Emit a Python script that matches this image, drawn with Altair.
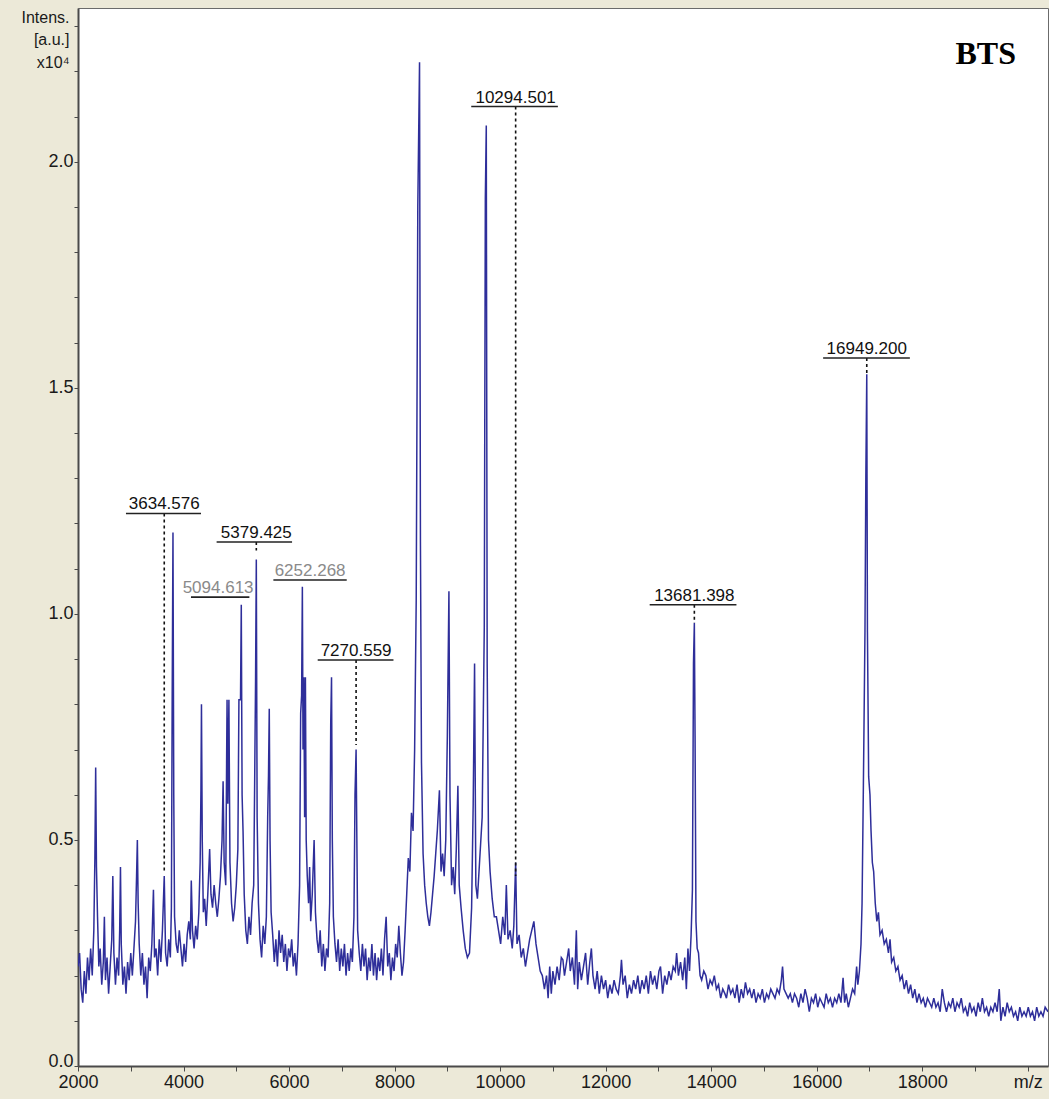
import altair as alt
import pandas as pd

# ---------------- spectrum (m/z, intensity x10^4) ----------------
SEG_A = [
    (2000, 0.22), (2030, 0.25), (2060, 0.17), (2090, 0.14), (2120, 0.21), (2150, 0.16),
    (2180, 0.24), (2210, 0.19), (2240, 0.26), (2270, 0.20), (2300, 0.30), (2320, 0.46),
    (2335, 0.66), (2350, 0.44), (2370, 0.33), (2395, 0.22), (2420, 0.26), (2450, 0.18),
    (2480, 0.23), (2500, 0.33), (2520, 0.19), (2550, 0.24), (2580, 0.16), (2610, 0.22),
    (2640, 0.28), (2660, 0.42), (2680, 0.25), (2710, 0.18), (2740, 0.24), (2770, 0.20),
    (2790, 0.30), (2805, 0.44), (2820, 0.27), (2850, 0.18), (2880, 0.22), (2910, 0.16),
    (2940, 0.23), (2970, 0.19), (3000, 0.25), (3030, 0.20), (3060, 0.26), (3090, 0.32),
    (3110, 0.42), (3125, 0.50), (3140, 0.36), (3160, 0.27), (3190, 0.20), (3220, 0.25),
    (3250, 0.18), (3280, 0.22), (3310, 0.15), (3340, 0.24), (3370, 0.21), (3400, 0.27),
    (3430, 0.39), (3450, 0.24), (3480, 0.26), (3510, 0.20), (3540, 0.28), (3570, 0.23),
    (3600, 0.30), (3634.576, 0.42), (3660, 0.25), (3690, 0.22), (3720, 0.28), (3750, 0.24),
    (3770, 0.35), (3785, 0.81), (3800, 1.18), (3815, 0.60), (3830, 0.33), (3860, 0.27),
    (3890, 0.25), (3920, 0.30), (3950, 0.26), (3980, 0.22), (4010, 0.27), (4040, 0.23),
    (4070, 0.29), (4100, 0.32), (4130, 0.28), (4147, 0.41), (4170, 0.30), (4200, 0.26),
    (4230, 0.31), (4260, 0.28), (4290, 0.34), (4315, 0.45), (4330, 0.61), (4340, 0.80),
    (4355, 0.50), (4375, 0.34), (4400, 0.37), (4430, 0.31), (4460, 0.38), (4495, 0.48),
    (4520, 0.38), (4550, 0.35), (4580, 0.40), (4610, 0.36), (4640, 0.33), (4670, 0.37),
    (4700, 0.42), (4730, 0.50), (4750, 0.63), (4770, 0.45), (4800, 0.40), (4825, 0.81),
    (4840, 0.58), (4860, 0.81), (4880, 0.45), (4910, 0.36), (4940, 0.32), (4970, 0.35),
]
SEG_B = [
    (5000, 0.40), (5030, 0.48), (5050, 0.81), (5080, 0.81), (5094.613, 1.02), (5110, 0.60),
    (5128, 0.52), (5150, 0.38), (5180, 0.30), (5210, 0.27), (5240, 0.33), (5270, 0.29),
    (5300, 0.36), (5330, 0.40), (5350, 0.65), (5365, 0.85), (5379.425, 1.12), (5395, 0.55),
    (5420, 0.36), (5450, 0.28), (5480, 0.24), (5510, 0.31), (5540, 0.27), (5570, 0.33),
    (5595, 0.55), (5610, 0.64), (5625, 0.79), (5640, 0.50), (5660, 0.34), (5690, 0.29),
    (5720, 0.23), (5750, 0.28), (5780, 0.22), (5810, 0.30), (5840, 0.25), (5870, 0.29),
    (5900, 0.23), (5930, 0.27), (5960, 0.21), (5990, 0.26), (6020, 0.24), (6050, 0.28),
    (6080, 0.22), (6110, 0.25), (6140, 0.20), (6170, 0.27), (6200, 0.40), (6220, 0.78),
    (6238, 0.82), (6252.268, 1.06), (6265, 0.70), (6280, 0.86), (6295, 0.55), (6310, 0.86),
    (6325, 0.50), (6345, 0.42), (6370, 0.36), (6390, 0.44), (6410, 0.32), (6440, 0.38),
    (6475, 0.50), (6500, 0.34), (6530, 0.28), (6560, 0.25), (6590, 0.30), (6620, 0.22),
    (6650, 0.27), (6680, 0.21), (6710, 0.26), (6740, 0.24), (6770, 0.36), (6790, 0.76),
    (6805, 0.86), (6820, 0.50), (6840, 0.33), (6870, 0.27), (6900, 0.23), (6930, 0.28),
    (6960, 0.21), (6990, 0.26), (7020, 0.22), (7050, 0.27), (7080, 0.20), (7110, 0.25),
    (7140, 0.21), (7170, 0.26), (7200, 0.23), (7230, 0.33), (7250, 0.60), (7270.559, 0.70),
    (7285, 0.50), (7300, 0.30), (7330, 0.25), (7360, 0.21), (7390, 0.27), (7420, 0.22),
    (7450, 0.26), (7480, 0.19), (7510, 0.24), (7540, 0.21), (7570, 0.27), (7600, 0.20),
    (7630, 0.25), (7660, 0.19), (7690, 0.24), (7720, 0.21), (7750, 0.26), (7780, 0.20),
    (7810, 0.28), (7840, 0.33), (7870, 0.22), (7900, 0.25), (7930, 0.19), (7960, 0.24),
    (7990, 0.21),
]
SEG_C = [
    (8020, 0.27), (8050, 0.24), (8080, 0.31), (8110, 0.25), (8140, 0.20), (8170, 0.23),
    (8200, 0.30), (8230, 0.38), (8260, 0.46), (8290, 0.43), (8320, 0.56), (8350, 0.52),
    (8380, 0.70), (8410, 1.03), (8440, 1.90), (8473, 2.22), (8490, 1.16), (8510, 0.67),
    (8540, 0.47), (8570, 0.40), (8600, 0.36), (8630, 0.33), (8660, 0.31), (8690, 0.34),
    (8720, 0.38), (8750, 0.42), (8780, 0.47), (8810, 0.52), (8850, 0.61), (8880, 0.43),
    (8910, 0.47), (8940, 0.42), (8970, 0.50), (9000, 0.73), (9030, 1.05), (9050, 0.60),
    (9080, 0.40), (9110, 0.44), (9140, 0.38), (9170, 0.48), (9200, 0.62), (9225, 0.40),
    (9260, 0.35), (9300, 0.30), (9340, 0.26), (9380, 0.24), (9420, 0.25), (9460, 0.35),
    (9490, 0.58), (9516, 0.89), (9540, 0.40), (9570, 0.37), (9610, 0.45), (9660, 0.55),
    (9700, 0.97), (9720, 1.92), (9738, 2.08), (9755, 0.89), (9780, 0.50), (9810, 0.43),
    (9850, 0.37), (9890, 0.33), (9930, 0.33), (9970, 0.30), (10010, 0.27), (10050, 0.33),
    (10090, 0.29), (10118, 0.40), (10150, 0.28), (10190, 0.30), (10230, 0.26), (10260, 0.31),
    (10294.501, 0.45), (10320, 0.27), (10360, 0.29), (10400, 0.24), (10440, 0.26),
    (10480, 0.22), (10520, 0.25), (10560, 0.28), (10600, 0.30), (10640, 0.32), (10680, 0.27),
    (10720, 0.24), (10760, 0.21), (10800, 0.20), (10840, 0.17), (10880, 0.20), (10910, 0.15),
    (10940, 0.22), (10970, 0.16),
]
SEG_D = [
    (11000, 0.21), (11040, 0.18), (11080, 0.22), (11120, 0.19), (11160, 0.24), (11190, 0.235),
    (11220, 0.20), (11260, 0.23), (11300, 0.26), (11330, 0.21), (11370, 0.24), (11410, 0.18),
    (11445, 0.30), (11470, 0.17), (11500, 0.23), (11540, 0.19), (11580, 0.22), (11620, 0.25),
    (11660, 0.18), (11700, 0.23), (11730, 0.26), (11760, 0.20), (11800, 0.17), (11840, 0.21),
    (11880, 0.16), (11920, 0.20), (11960, 0.17), (12000, 0.19), (12040, 0.15), (12080, 0.18),
    (12120, 0.16), (12160, 0.19), (12200, 0.17), (12240, 0.16), (12280, 0.20), (12300, 0.235),
    (12330, 0.18), (12370, 0.20), (12410, 0.15), (12450, 0.18), (12490, 0.16), (12530, 0.19),
    (12570, 0.17), (12610, 0.20), (12650, 0.16), (12690, 0.19), (12730, 0.17), (12770, 0.20),
    (12810, 0.16), (12850, 0.21), (12890, 0.18), (12930, 0.20), (12970, 0.17), (13010, 0.21),
    (13040, 0.22), (13080, 0.16), (13120, 0.20), (13160, 0.18), (13200, 0.21), (13240, 0.19),
    (13280, 0.22), (13320, 0.21), (13345, 0.25), (13380, 0.20), (13420, 0.23), (13460, 0.19),
    (13500, 0.24), (13530, 0.17), (13560, 0.26), (13590, 0.21), (13620, 0.29), (13645, 0.39),
    (13665, 0.89), (13681.398, 0.98), (13695, 0.73), (13712, 0.32), (13735, 0.26),
    (13760, 0.25), (13790, 0.20), (13820, 0.19), (13860, 0.21), (13900, 0.20), (13940, 0.17),
    (13980, 0.19), (14020, 0.18), (14060, 0.20), (14100, 0.17), (14140, 0.18), (14180, 0.15),
    (14220, 0.17), (14260, 0.16), (14290, 0.15), (14330, 0.18), (14370, 0.16), (14410, 0.17),
    (14450, 0.15), (14490, 0.18), (14530, 0.14), (14570, 0.17), (14610, 0.15), (14650, 0.185),
    (14690, 0.16), (14730, 0.17), (14770, 0.15), (14810, 0.17), (14850, 0.14), (14890, 0.16),
    (14930, 0.15), (14970, 0.17),
]
SEG_E = [
    (15010, 0.14), (15050, 0.16), (15090, 0.15), (15130, 0.17), (15170, 0.16), (15210, 0.15),
    (15250, 0.17), (15290, 0.16), (15330, 0.19), (15353, 0.22), (15380, 0.17), (15420, 0.16),
    (15460, 0.15), (15500, 0.16), (15540, 0.14), (15580, 0.16), (15620, 0.15), (15660, 0.13),
    (15700, 0.16), (15740, 0.14), (15780, 0.17), (15820, 0.15), (15860, 0.12), (15900, 0.15),
    (15940, 0.14), (15980, 0.16), (16020, 0.13), (16060, 0.15), (16100, 0.14), (16140, 0.13),
    (16180, 0.16), (16220, 0.14), (16260, 0.15), (16300, 0.13), (16340, 0.15), (16380, 0.14),
    (16420, 0.16), (16460, 0.14), (16500, 0.195), (16530, 0.14), (16560, 0.16), (16600, 0.13),
    (16640, 0.15), (16680, 0.17), (16720, 0.16), (16757, 0.22), (16780, 0.18), (16810, 0.21),
    (16840, 0.27), (16860, 0.36), (16885, 0.62), (16915, 0.96), (16932, 1.31), (16949.2, 1.53),
    (16962, 0.96), (16985, 0.64), (17010, 0.60), (17030, 0.52), (17055, 0.45), (17080, 0.43),
    (17110, 0.36), (17140, 0.32), (17170, 0.34), (17200, 0.29), (17240, 0.30), (17280, 0.27),
    (17320, 0.28), (17360, 0.25), (17390, 0.28), (17420, 0.23), (17460, 0.24), (17500, 0.21),
    (17540, 0.22), (17580, 0.19), (17620, 0.20), (17660, 0.17), (17700, 0.19), (17740, 0.16),
    (17780, 0.18), (17820, 0.15), (17860, 0.17), (17900, 0.14), (17940, 0.16), (17980, 0.14),
    (18020, 0.15), (18060, 0.13), (18100, 0.15), (18140, 0.14), (18180, 0.13), (18220, 0.15),
    (18260, 0.13), (18300, 0.14), (18340, 0.12), (18380, 0.17), (18420, 0.14), (18460, 0.12),
    (18500, 0.14), (18540, 0.13), (18580, 0.15), (18620, 0.12), (18660, 0.14), (18700, 0.13),
    (18740, 0.15), (18780, 0.12), (18820, 0.13), (18860, 0.11), (18900, 0.14), (18940, 0.12),
    (18980, 0.13), (19020, 0.11), (19060, 0.14), (19100, 0.12), (19140, 0.15), (19180, 0.12),
    (19220, 0.13), (19260, 0.11), (19300, 0.13), (19340, 0.12), (19380, 0.14), (19420, 0.12),
    (19460, 0.17), (19490, 0.10), (19530, 0.13), (19570, 0.11), (19610, 0.14), (19650, 0.12),
    (19690, 0.13), (19730, 0.11), (19770, 0.12), (19810, 0.10), (19850, 0.13), (19890, 0.11),
    (19930, 0.12), (19970, 0.11), (20010, 0.13), (20050, 0.11), (20090, 0.12), (20130, 0.10),
    (20170, 0.13), (20210, 0.11), (20250, 0.12), (20290, 0.11), (20330, 0.13), (20384, 0.12),
]

# ---------------- peak annotations ----------------
LABELS = ["3634.576", "5094.613", "5379.425", "6252.268",
          "7270.559", "10294.501", "13681.398", "16949.200"]
LABEL_MZ = [3634.576, 4655, 5379.425, 6399, 7270.559, 10294.501, 13681.398, 16949.2]
LABEL_LEVEL = [1.222, 1.037, 1.159, 1.075, 0.898, 2.122, 1.020, 1.566]
UNDER_LO = [2909, 4141, 4627, 5703, 6543, 9453, 12835, 16122]
UNDER_HI = [4331, 5248, 6057, 7093, 7979, 11095, 14479, 17766]
PEAK_TOP = [0.43, None, 1.14, None, 0.71, 0.42, 0.98, 1.53]
LABEL_KIND = ["main", "alt", "main", "alt", "main", "main", "main", "main"]

X_DOMAIN = [2000, 20384]
Y_DOMAIN = [0, 2.34]
X_TICKS = list(range(2000, 20001, 1000))
Y_TICKS = [round(i * 0.1, 1) for i in range(24)]

spec = pd.DataFrame(SEG_A + SEG_B + SEG_C + SEG_D + SEG_E, columns=["mz", "intensity"])
ann = pd.DataFrame({
    "label": LABELS, "mz": LABEL_MZ, "level": LABEL_LEVEL,
    "lo": UNDER_LO, "hi": UNDER_HI, "peak": PEAK_TOP, "kind": LABEL_KIND,
})

FONT = "Liberation Sans"
NARROW = "Liberation Sans Narrow, Liberation Sans, Arial"

xscale = alt.Scale(domain=X_DOMAIN, nice=False, zero=False)
yscale = alt.Scale(domain=Y_DOMAIN, nice=False, zero=True)

x_axis = alt.Axis(
    values=X_TICKS,
    labelExpr="datum.value == 20000 ? 'm/z' : (datum.value % 2000 == 0 ? format(datum.value, 'd') : '')",
    grid=False, domainColor="#4a4a4a", domainWidth=2, tickColor="#4a4a4a", tickSize=5,
    tickWidth=1, labelFont=NARROW, labelFontSize=18, labelColor="#1a1a1a",
    labelPadding=2, labelFlush=False, labelOverlap=False, title=None,
)
y_axis = alt.Axis(
    values=Y_TICKS,
    labelExpr="round(datum.value * 10) % 5 == 0 ? format(datum.value, '.1f') : ''",
    labelBaseline={"condition": {"test": "datum.value == 0", "value": "alphabetic"},
                   "value": "middle"},
    grid=False, domainColor="#4a4a4a", domainWidth=2, tickColor="#4a4a4a", tickSize=4,
    tickWidth=1, labelFont=NARROW, labelFontSize=18, labelColor="#1a1a1a",
    labelPadding=1, labelFlush=False, labelOverlap=False,
    title=["Intens.", "[a.u.]", "x10\u2074"], titleAngle=0, titleAlign="right",
    titleBaseline="alphabetic", titleX=-9, titleY=14, titleLineHeight=22.5,
    titleFont=FONT, titleFontSize=16, titleFontWeight="normal", titleColor="#1a1a1a",
)

line = alt.Chart(spec).mark_line(color="#2e2e9a", strokeWidth=1.5, clip=True).encode(
    x=alt.X("mz:Q", scale=xscale, axis=x_axis),
    y=alt.Y("intensity:Q", scale=yscale, axis=y_axis),
)

dashed = alt.Chart(ann).transform_filter("datum.peak != null").mark_rule(
    color="#111111", strokeWidth=1.6, strokeDash=[3, 3]
).encode(
    x=alt.X("mz:Q", scale=xscale),
    y=alt.Y("level:Q", scale=yscale),
    y2="peak:Q",
)

underline = alt.Chart(ann).mark_rule(color="#222222", strokeWidth=1.6).encode(
    x=alt.X("lo:Q", scale=xscale),
    x2="hi:Q",
    y=alt.Y("level:Q", scale=yscale),
)

labels = alt.Chart(ann).mark_text(
    font=FONT, fontSize=17, baseline="alphabetic", align="center", dy=-4
).encode(
    x=alt.X("mz:Q", scale=xscale),
    y=alt.Y("level:Q", scale=yscale),
    text="label:N",
    color=alt.Color("kind:N", scale=alt.Scale(domain=["main", "alt"], range=["#111111", "#8a8a8a"]),
                    legend=None),
)

chart = alt.layer(line, dashed, underline, labels).properties(
    width=970, height=1058,
    padding={"left": 78, "top": 8, "right": 1, "bottom": 33},
    autosize=alt.AutoSizeParams(type="none"),
    background="#ece9d8",
    title=alt.TitleParams(
        text="BTS", font="Liberation Serif", fontSize=32, fontWeight="bold", color="#000000",
        anchor="end", frame="group", orient="top", offset=0, baseline="alphabetic",
        dx=-32, dy=88,
    ),
).configure_view(fill="white", stroke="#6b6b6b", strokeWidth=1)

chart.save("out.html", embed_options={"renderer": "svg", "actions": False})
